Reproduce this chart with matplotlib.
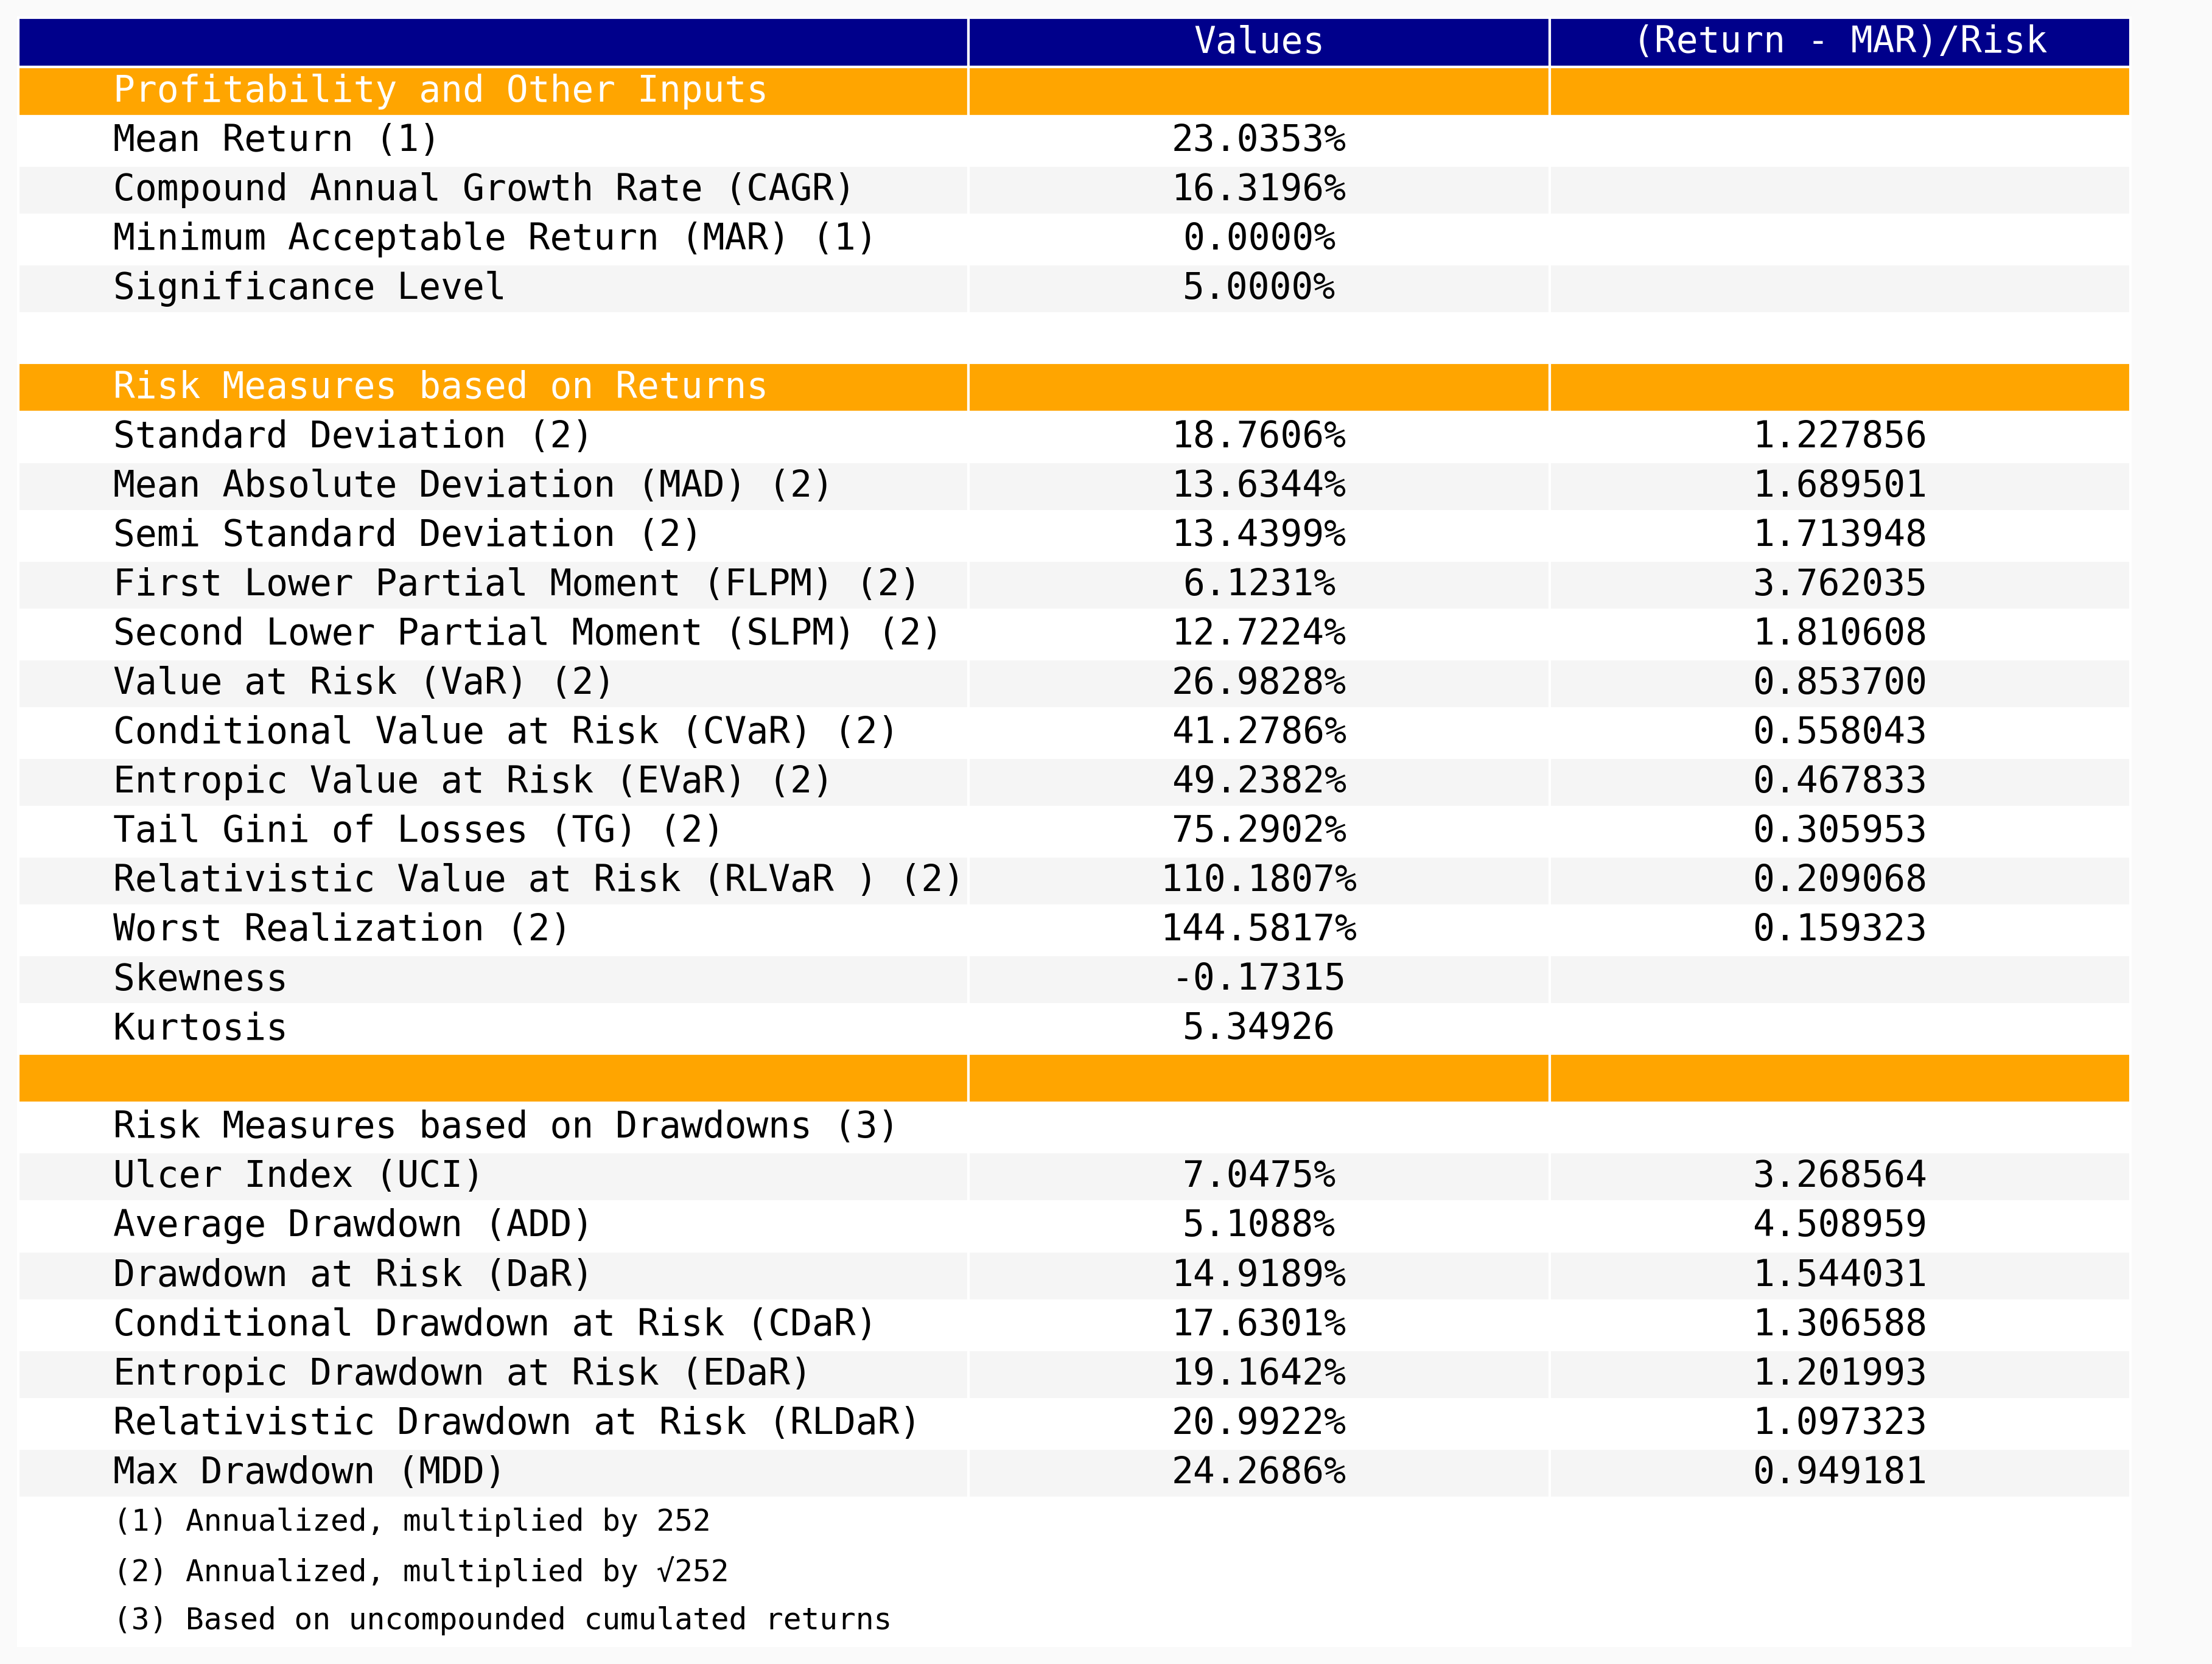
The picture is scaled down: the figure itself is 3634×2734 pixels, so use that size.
import matplotlib
matplotlib.use("Agg")
import matplotlib.pyplot as plt

# ---- data ----
col_labels = ["", "Values", "(Return - MAR)/Risk"]

row_labels = [
    "Profitability and Other Inputs",
    "Mean Return (1)",
    "Compound Annual Growth Rate (CAGR)",
    "Minimum Acceptable Return (MAR) (1)",
    "Significance Level",
    "",
    "Risk Measures based on Returns",
    "Standard Deviation (2)",
    "Mean Absolute Deviation (MAD) (2)",
    "Semi Standard Deviation (2)",
    "First Lower Partial Moment (FLPM) (2)",
    "Second Lower Partial Moment (SLPM) (2)",
    "Value at Risk (VaR) (2)",
    "Conditional Value at Risk (CVaR) (2)",
    "Entropic Value at Risk (EVaR) (2)",
    "Tail Gini of Losses (TG) (2)",
    "Relativistic Value at Risk (RLVaR ) (2)",
    "Worst Realization (2)",
    "Skewness",
    "Kurtosis",
    "",
    "Risk Measures based on Drawdowns (3)",
    "Ulcer Index (UCI)",
    "Average Drawdown (ADD)",
    "Drawdown at Risk (DaR)",
    "Conditional Drawdown at Risk (CDaR)",
    "Entropic Drawdown at Risk (EDaR)",
    "Relativistic Drawdown at Risk (RLDaR)",
    "Max Drawdown (MDD)",
    "(1) Annualized, multiplied by 252",
    "(2) Annualized, multiplied by \u221a252",
    "(3) Based on uncompounded cumulated returns",
]

values = [
    None, 0.230353, 0.163196, 0.0, 0.05, None,
    None, 0.187606, 0.136344, 0.134399, 0.061231, 0.127224, 0.269828,
    0.412786, 0.492382, 0.752902, 1.101807, 1.445817, -0.17315, 5.34926,
    None, None, 0.070475, 0.051088, 0.149189, 0.176301, 0.191642,
    0.209922, 0.242686, None, None, None,
]
value_kind = [
    "", "pct", "pct", "pct", "pct", "",
    "", "pct", "pct", "pct", "pct", "pct", "pct",
    "pct", "pct", "pct", "pct", "pct", "num", "num",
    "", "", "pct", "pct", "pct", "pct", "pct",
    "pct", "pct", "", "", "",
]
ratios = [
    None, None, None, None, None, None,
    None, 1.227856, 1.689501, 1.713948, 3.762035, 1.810608, 0.853700,
    0.558043, 0.467833, 0.305953, 0.209068, 0.159323, None, None,
    None, None, 3.268564, 4.508959, 1.544031, 1.306588, 1.201993,
    1.097323, 0.949181, None, None, None,
]
row_kind = (["section"] + ["data"] * 5 + ["section"] + ["data"] * 13 +
            ["section"] + ["subhead"] + ["data"] * 7 + ["note"] * 3)

# ---- styling ----
FONT = "DejaVu Sans Mono"
FS = 14.3
FS_NOTE = 11.9
NAVY = "#00008B"
ORANGE = "#FFA500"
GRAY = "#F5F5F5"
BG = "#FAFAFA"

W, H, DPI = 3634, 2734, 300
fig = plt.figure(figsize=(W / DPI, H / DPI), dpi=DPI, facecolor=BG)
ax = fig.add_axes([30 / W, 30 / H, 3470 / W, 2675 / H])
ax.axis("off")


def fmt_val(v, k):
    if v is None:
        return ""
    if k == "pct":
        return "{:.4%}".format(v)
    return "{:.5f}".format(v)


def fmt_ratio(r):
    return "" if r is None else "{:.6f}".format(r)


cell_text = [col_labels]
for lab, v, k, r in zip(row_labels, values, value_kind, ratios):
    cell_text.append([lab, fmt_val(v, k), fmt_ratio(r)])

table = ax.table(cellText=cell_text, colWidths=[0.45, 0.275, 0.275],
                 cellLoc="center", bbox=[0, 0, 1, 1])
table.auto_set_font_size(False)

cells = table.get_celld()
n_rows = len(cell_text)
for (i, j), cell in cells.items():
    cell.set_edgecolor("white")
    cell.set_linewidth(1.0)
    txt = cell.get_text()
    txt.set_fontfamily(FONT)
    txt.set_fontsize(FS)
    if i == 0:
        cell.set_facecolor(NAVY)
        txt.set_color("white")
        continue
    kind = row_kind[i - 1]
    if j == 0:
        cell._loc = "left"
        txt.set_horizontalalignment("left")
    if kind == "section":
        cell.set_facecolor(ORANGE)
        txt.set_color("white")
    elif kind == "note":
        cell.set_facecolor("white")
        txt.set_fontsize(FS_NOTE)
    elif kind == "subhead":
        cell.set_facecolor("white")
    else:
        cell.set_facecolor(GRAY if i % 2 == 1 else "white")

fig.savefig("out.png", dpi=DPI, facecolor=BG)
